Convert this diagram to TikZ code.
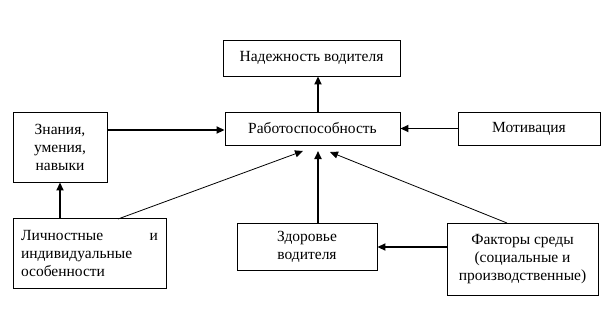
\documentclass[tikz,border=0pt]{standalone}
\usepackage{fontspec}
\setmainfont{Liberation Serif}
\usetikzlibrary{arrows.meta, positioning, calc}

\begin{document}
\begin{tikzpicture}[x=1pt, y=-1pt,
    block/.style={draw, rectangle, line width=0.9pt, inner sep=0pt, align=center, font=\fontsize{15.5}{18}\selectfont},
    link/.style={-{Triangle[length=8pt, width=7pt]}, line width=1.8pt},
    thinlink/.style={-{Triangle[length=8pt, width=7pt]}, line width=0.8pt}]
    \useasboundingbox (0,0) rectangle (616,309);
    \node[block, minimum width=177pt, minimum height=36pt] (nad) at (311.5,58) {Надежность водителя};
    \node[block, minimum width=175pt, minimum height=33pt] (rab) at (312.5,128.5) {Работоспособность};
    \node[block, minimum width=94pt, minimum height=70pt] (zn) at (60,147) {Знания,\\умения,\\навыки};
    \node[block, minimum width=153pt, minimum height=70pt, text width=137pt, align=left] (lich) at (89.5,253) {Личностные \hfill и\\индивидуальные\\особенности};
    \node[block, minimum width=142pt, minimum height=33pt] (mot) at (529,128.5) {Мотивация};
    \node[block, minimum width=140pt, minimum height=47pt] (zdr) at (307,246.5) {Здоровье\\водителя};
    \node[block, minimum width=151pt, minimum height=72pt] (fak) at (522.5,259) {Факторы среды\\(социальные и\\производственные)};
    % points under the central block
    \coordinate (rl) at (303,151);
    \coordinate (rm) at (318,151);
    \coordinate (rr) at (330,152);
    \coordinate (lt) at (118,219);
    \coordinate (ft) at (507,223);
    \draw[link] (rm |- rab.north) -- (rm |- nad.south);
    \draw[link] (zn.east |- 0,130) -- (rab.west |- 0,130);
    \draw[link] (mot.west) -- (rab.east);
    \draw[link] (60,0 |- lich.north) -- (60,0 |- zn.south);
    \draw[link] (rm |- zdr.north) -- (rm);
    \draw[link] (fak.west |- 0,247) -- (zdr.east |- 0,247);
    \draw[thinlink] (lt) -- (rl);
    \draw[thinlink] (ft) -- (rr);
\end{tikzpicture}
\end{document}
